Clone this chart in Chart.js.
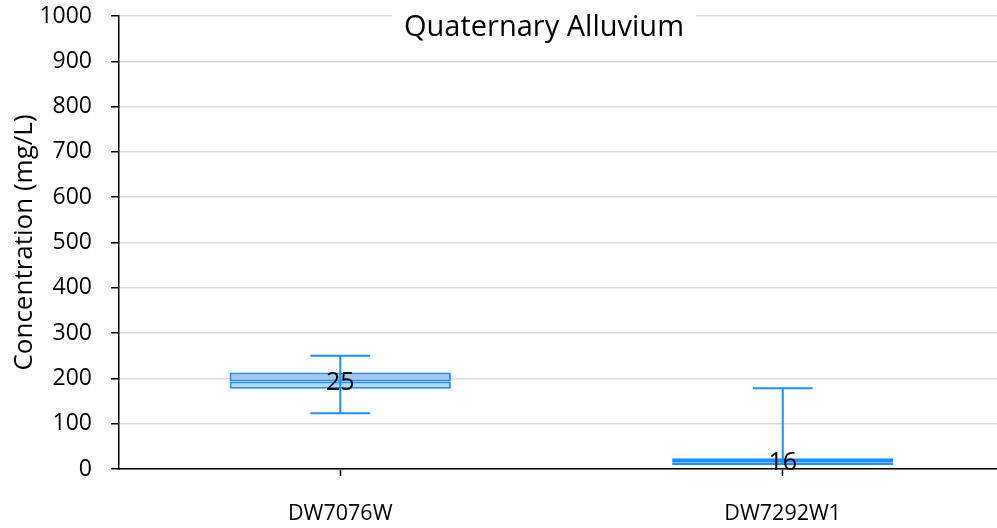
<!DOCTYPE html>
<html>
<head>
<meta charset="utf-8">
<script src="https://cdn.jsdelivr.net/npm/chart.js@4"></script>
<style>
  html, body { margin: 0; padding: 0; background: #fff; overflow: hidden; }
  #wrap { width: 1004px; height: 528px; }
</style>
</head>
<body>
<div id="wrap"><canvas id="chart" width="1004" height="528"></canvas></div>
<script>
// box plot data
const categories = ['DW7076W', 'DW7292W1'];
const whiskerMin = [123, 9];
const q1 = [177, 9];
const median = [193, 15];
const q3 = [213, 24];
const whiskerMax = [250, 178];
const counts = [25, 16];
const yTicks = [0, 100, 200, 300, 400, 500, 600, 700, 800, 900, 1000];

const BLUE = '#1e8ef8';
const FONT = "'Open Sans', sans-serif";

// whiskers + count labels, drawn on top of the boxes
const boxExtras = {
  id: 'boxExtras',
  afterDatasetsDraw(chart) {
    const { ctx, scales: { x, y } } = chart;
    const bars = chart.getDatasetMeta(0).data;
    ctx.save();
    ctx.strokeStyle = BLUE;
    ctx.lineWidth = 2;
    categories.forEach((c, i) => {
      const cx = x.getPixelForValue(i);
      const half = bars[i].width * 0.135;
      const yTop = y.getPixelForValue(whiskerMax[i]);
      const yBot = y.getPixelForValue(whiskerMin[i]);
      ctx.beginPath();
      ctx.moveTo(cx, yBot); ctx.lineTo(cx, yTop);
      ctx.moveTo(cx - half, yTop); ctx.lineTo(cx + half, yTop);
      if (whiskerMin[i] < q1[i]) {
        ctx.moveTo(cx - half, yBot); ctx.lineTo(cx + half, yBot);
      }
      ctx.stroke();
    });
    ctx.fillStyle = '#000';
    ctx.font = '25px ' + FONT;
    ctx.textAlign = 'center';
    ctx.textBaseline = 'middle';
    categories.forEach((c, i) => {
      ctx.fillText(String(counts[i]), x.getPixelForValue(i), y.getPixelForValue(median[i]) + 1);
    });
    ctx.restore();
  }
};

// chart title sits inside the plot with a white backing
const titleBox = {
  id: 'titleBox',
  afterDraw(chart) {
    const { ctx } = chart;
    const text = 'Quaternary Alluvium';
    ctx.save();
    ctx.font = '29px ' + FONT;
    const w = ctx.measureText(text).width;
    const cx = 544;
    ctx.fillStyle = '#fff';
    ctx.fillRect(cx - w / 2 - 12, 0, w + 24, 46);
    ctx.fillStyle = '#000';
    ctx.textAlign = 'center';
    ctx.textBaseline = 'middle';
    ctx.fillText(text, cx, 28);
    ctx.restore();
  }
};

new Chart(document.getElementById('chart'), {
  type: 'bar',
  data: {
    labels: categories,
    datasets: [
      {
        data: categories.map((c, i) => [q1[i], median[i]]),
        backgroundColor: '#b6d7f8',
        borderColor: BLUE,
        borderWidth: 2,
        borderSkipped: false,
        grouped: false,
        barPercentage: 0.5,
        categoryPercentage: 1.0
      },
      {
        data: categories.map((c, i) => [median[i], q3[i]]),
        backgroundColor: '#a8c6ea',
        borderColor: BLUE,
        borderWidth: 2,
        borderSkipped: false,
        grouped: false,
        barPercentage: 0.5,
        categoryPercentage: 1.0
      }
    ]
  },
  options: {
    responsive: false,
    animation: false,
    layout: { padding: { top: 16, left: 0, right: 0, bottom: 0 } },
    plugins: { legend: { display: false }, tooltip: { enabled: false } },
    scales: {
      x: {
        grid: { drawOnChartArea: false, offset: false, tickLength: 7, tickColor: '#000', tickWidth: 1.5 },
        border: { color: '#000', width: 1.5 },
        ticks: { color: '#000', font: { family: FONT, size: 21.5 }, padding: 25, maxRotation: 0 },
        afterFit(scale) { scale.height = 59; scale.paddingLeft = 0; scale.paddingRight = 0; }
      },
      y: {
        min: 0,
        max: 1000,
        afterBuildTicks(scale) { scale.ticks = yTicks.map(v => ({ value: v })); },
        grid: { color: '#d9d9d9', lineWidth: 1.5, tickLength: 8, tickColor: '#000', tickWidth: 1.5 },
        border: { color: '#000', width: 1.5 },
        ticks: {
          color: '#000',
          font: { family: FONT, size: 23 },
          padding: 19,
          callback: v => String(v)
        },
        title: {
          display: true,
          text: 'Concentration (mg/L)',
          color: '#000',
          font: { family: FONT, size: 26 },
          padding: { top: 9, bottom: 0 }
        },
        afterFit(scale) { scale.width = 119; scale.paddingTop = 0; scale.paddingBottom = 0; }
      }
    }
  },
  plugins: [boxExtras, titleBox]
});
</script>
</body>
</html>
